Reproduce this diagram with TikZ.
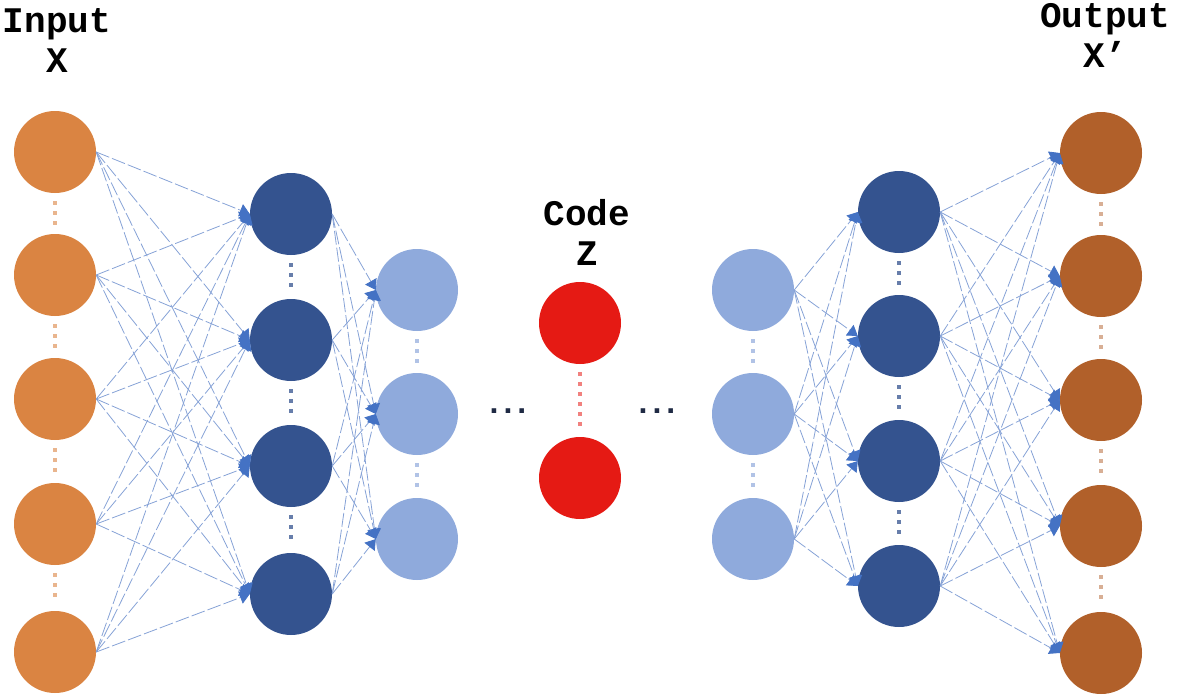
\documentclass[tikz,border=0pt]{standalone}
\usepackage{fontspec}
\setmainfont{Liberation Mono}
\newfontfamily\dotfont{Liberation Sans}
\usetikzlibrary{arrows.meta}
\definecolor{inorange}{HTML}{DA8442}
\definecolor{outbrown}{HTML}{B1602A}
\definecolor{deepblue}{HTML}{34538F}
\definecolor{paleblue}{HTML}{8FAADC}
\definecolor{codered}{HTML}{E51A14}
\definecolor{linkblue}{HTML}{86A2D6}
\definecolor{tipblue}{HTML}{4472C4}
\definecolor{dotnavy}{HTML}{1F2A44}
\newcommand{\threedots}{.\hspace{5pt}.\hspace{5pt}.}
\begin{document}
\begin{tikzpicture}[x=1pt, y=-1pt,
      unit/.style={circle, minimum size=82pt, inner sep=0pt},
      link/.style={-{Triangle[length=10pt, width=13pt, color=tipblue]},
        draw=linkblue, line width=0.8pt, dash pattern=on 14pt off 3pt},
      vdots/.style={line width=4pt, dash pattern=on 4pt off 6pt,
        shorten <=8pt, shorten >=8pt},
      lbl/.style={font=\fontsize{36}{40}\selectfont\bfseries, align=center},
      etc/.style={font=\dotfont\fontsize{32}{32}\selectfont\bfseries,
        text=dotnavy, anchor=base},
    ]
    \useasboundingbox (0,0) rectangle (1178,696);

    % Layers
    \foreach \i/\y in {1/152, 2/275, 3/399, 4/524, 5/652}
      \node[unit, fill=inorange] (inp\i) at (55,\y) {};
    \foreach \i/\y in {1/214, 2/340, 3/466, 4/594}
      \node[unit, fill=deepblue] (encA\i) at (291,\y) {};
    \foreach \i/\y in {1/290, 2/414, 3/539}
      \node[unit, fill=paleblue] (encB\i) at (417,\y) {};
    \foreach \i/\y in {1/323, 2/478}
      \node[unit, fill=codered] (code\i) at (580,\y) {};
    \foreach \i/\y in {1/290, 2/414, 3/539}
      \node[unit, fill=paleblue] (decB\i) at (753,\y) {};
    \foreach \i/\y in {1/212, 2/336, 3/461, 4/586}
      \node[unit, fill=deepblue] (decA\i) at (899,\y) {};
    \foreach \i/\y in {1/153, 2/276, 3/400, 4/526, 5/653}
      \node[unit, fill=outbrown] (out\i) at (1101,\y) {};

    % Labels
    \node[lbl] (inlbl) at (57,41) {Input\\X};
    \node[lbl] (codelbl) at (587,232) {Code\\Z};
    \node[lbl] (outlbl) at (1105,35) {Output\\X’};
    \node[etc] (etcL) at (508,413) {\threedots};
    \node[etc] (etcR) at (657,413) {\threedots};

    % Dotted gaps
    \foreach \i/\k in {1/2, 2/3, 3/4, 4/5} {
      \draw[vdots, draw=inorange!60] (inp\i) -- (inp\k);
      \draw[vdots, draw=outbrown!50] (out\i) -- (out\k);
    }
    \foreach \i/\k in {1/2, 2/3, 3/4} {
      \draw[vdots, draw=deepblue!75] (encA\i) -- (encA\k);
      \draw[vdots, draw=deepblue!75] (decA\i) -- (decA\k);
    }
    \foreach \i/\k in {1/2, 2/3} {
      \draw[vdots, draw=paleblue!70] (encB\i) -- (encB\k);
      \draw[vdots, draw=paleblue!70] (decB\i) -- (decB\k);
    }
    \draw[vdots, draw=codered!55] (code1) -- (code2);

    % Connections
    \foreach \i in {1,...,5}
      \foreach \j in {1,...,4}
        \draw[link] (inp\i.east) -- (encA\j.west);
    \foreach \i in {1,...,4}
      \foreach \j in {1,...,3}
        \draw[link] (encA\i.east) -- (encB\j.west);
    \foreach \i in {1,...,3}
      \foreach \j in {1,...,4}
        \draw[link] (decB\i.east) -- (decA\j.west);
    \foreach \i in {1,...,4}
      \foreach \j in {1,...,5}
        \draw[link] (decA\i.east) -- (out\j.west);
  \end{tikzpicture}
\end{document}
